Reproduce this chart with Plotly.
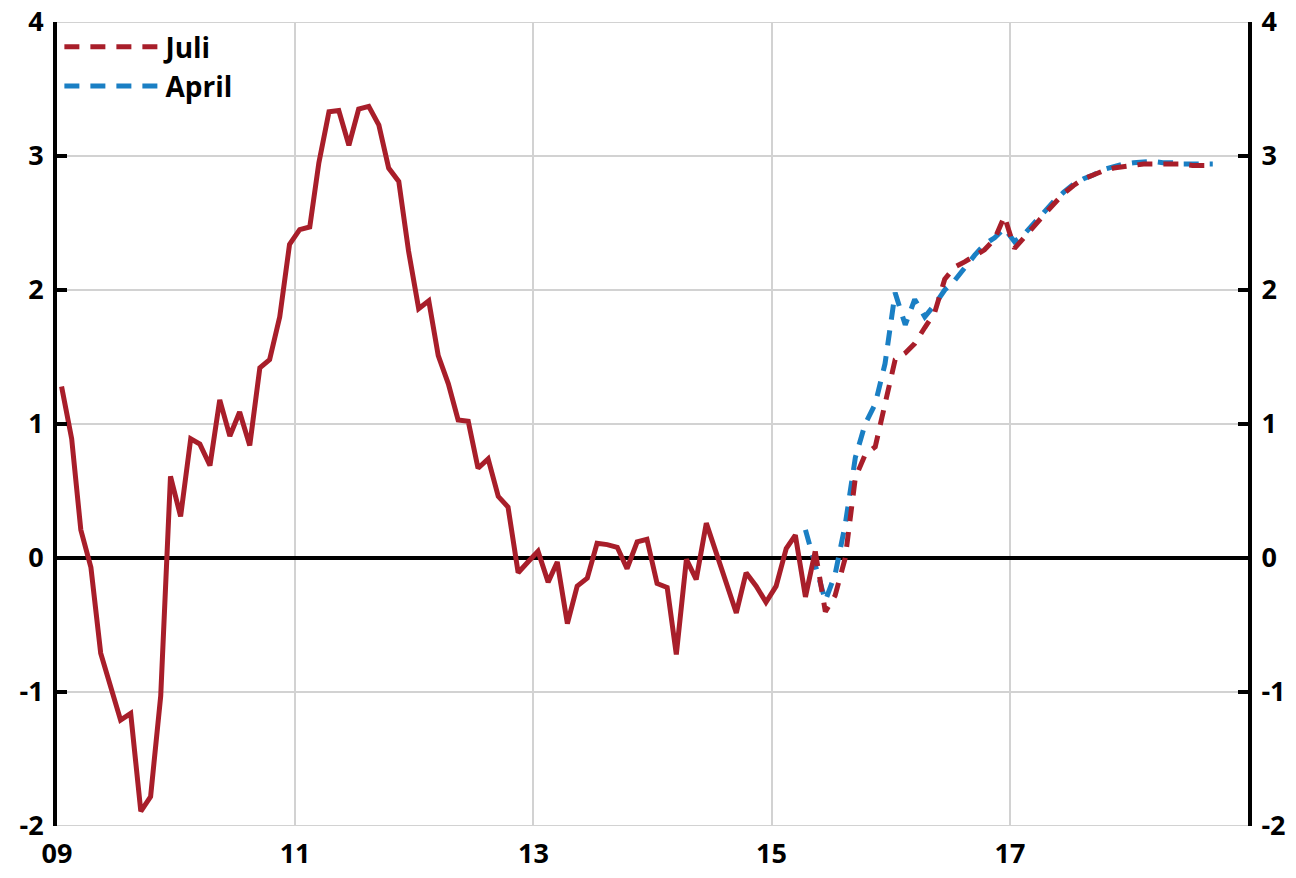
import pandas as pd
import plotly.graph_objects as go

# ---------------- data (monthly, % ) ----------------
actual_start = "2009-01-01"
actual_values = [
    1.28, 0.89, 0.21, -0.07, -0.71, -0.96, -1.21, -1.16, -1.89, -1.78,
    -1.03, 0.61, 0.31, 0.89, 0.85, 0.69, 1.18, 0.91, 1.09, 0.84,
    1.42, 1.48, 1.80, 2.34, 2.45, 2.47, 2.95, 3.33, 3.34, 3.08,
    3.35, 3.37, 3.23, 2.91, 2.81, 2.29, 1.86, 1.92, 1.51, 1.30,
    1.03, 1.02, 0.67, 0.74, 0.46, 0.38, -0.11, -0.03, 0.05, -0.18,
    -0.03, -0.49, -0.21, -0.15, 0.11, 0.10, 0.08, -0.08, 0.12, 0.14,
    -0.19, -0.22, -0.72, -0.01, -0.16, 0.26, 0.04, -0.16, -0.41, -0.11,
    -0.21, -0.33, -0.21, 0.07, 0.17, -0.29, 0.05,
]

juli_start = "2015-05-01"
juli_values = [
    0.05, -0.40, -0.28, 0.00, 0.60, 0.77, 0.83, 1.15, 1.48, 1.53,
    1.60, 1.72, 1.83, 2.08, 2.17, 2.21, 2.26, 2.30, 2.38, 2.55,
    2.31, 2.40, 2.48, 2.56, 2.64, 2.72, 2.78, 2.83, 2.86, 2.89,
    2.91, 2.92, 2.93, 2.94, 2.94, 2.94, 2.94, 2.94, 2.93, 2.93,
    2.93,
]

april_start = "2015-04-01"
april_values = [
    0.21, -0.05, -0.32, -0.12, 0.25, 0.75, 1.00, 1.15, 1.45, 1.98,
    1.74, 1.93, 1.80, 1.89, 2.00, 2.07, 2.17, 2.26, 2.34, 2.39,
    2.46, 2.36, 2.42, 2.50, 2.58, 2.66, 2.73, 2.79, 2.83, 2.86,
    2.90, 2.92, 2.94, 2.95, 2.96, 2.96, 2.95, 2.95, 2.94, 2.94,
    2.94, 2.94,
]

series_names = ["Juli", "April"]
x_tick_years = [2009, 2011, 2013, 2015, 2017]
x_tick_labels = ["09", "11", "13", "15", "17"]
y_tick_vals = [-2, -1, 0, 1, 2, 3, 4]
y_tick_labels = ["-2", "-1", "0", "1", "2", "3", "4"]
y_range = [-2, 4]


def month_mid(start, n):
    return pd.date_range(start, periods=n, freq="MS") + pd.Timedelta(days=14)


RED = "#A81E2A"
BLUE = "#1A7FC4"
GRID = "#D2D2D2"
FONT = dict(family="Open Sans", size=27, color="black", weight="bold")
LEGEND_FONT = dict(family="Open Sans", size=28, color="black", weight="bold")
LW = 5

fig = go.Figure()

fig.add_trace(go.Scatter(
    x=month_mid(april_start, len(april_values)), y=april_values,
    mode="lines", name=series_names[1], legendrank=2,
    line=dict(color=BLUE, width=LW, dash="15px,11px"),
))
fig.add_trace(go.Scatter(
    x=month_mid(juli_start, len(juli_values)), y=juli_values,
    mode="lines", name=series_names[0], legendrank=1,
    line=dict(color=RED, width=LW, dash="15px,11px"),
))
fig.add_trace(go.Scatter(
    x=month_mid(actual_start, len(actual_values)), y=actual_values,
    mode="lines", showlegend=False,
    line=dict(color=RED, width=LW),
))
# invisible copy on the right-hand axis so that it is drawn
fig.add_trace(go.Scatter(
    x=month_mid(actual_start, len(actual_values)), y=actual_values,
    yaxis="y2", mode="lines", showlegend=False, hoverinfo="skip",
    line=dict(color="rgba(0,0,0,0)", width=0),
))

# grid lines at the top and bottom edges of the value range
for yv in (y_range[0], y_range[1]):
    fig.add_shape(type="line", xref="paper", yref="y", x0=0, x1=1, y0=yv, y1=yv,
                  line=dict(color=GRID, width=2), layer="below")

fig.update_layout(
    width=1296, height=878,
    margin=dict(l=57, r=48, t=22, b=52, autoexpand=False),
    paper_bgcolor="white", plot_bgcolor="white",
    font=FONT,
    showlegend=True,
    legend=dict(
        x=0.002, y=1.0, xanchor="left", yanchor="top",
        bgcolor="rgba(0,0,0,0)", font=LEGEND_FONT,
        itemwidth=96, tracegroupgap=0,
    ),
    xaxis=dict(
        type="date",
        range=["2009-01-01", "2019-01-01"],
        tickvals=[f"{y}-01-01" for y in x_tick_years],
        ticktext=x_tick_labels,
        showgrid=True, gridcolor=GRID, gridwidth=2,
        zeroline=False, showline=False,
        ticks="outside", ticklen=4, tickcolor="rgba(0,0,0,0)",
        tickfont=FONT, automargin=False,
    ),
    yaxis=dict(
        range=y_range,
        tickvals=y_tick_vals, ticktext=y_tick_labels,
        showgrid=True, gridcolor=GRID, gridwidth=2,
        zeroline=True, zerolinecolor="black", zerolinewidth=4,
        showline=True, linecolor="black", linewidth=4,
        ticks="inside", ticklen=10, tickwidth=4, tickcolor="black",
        tickfont=FONT, automargin=False, ticklabelstandoff=4,
        ticklabeloverflow="allow",
    ),
    yaxis2=dict(
        range=y_range, overlaying="y", side="right",
        tickvals=y_tick_vals, ticktext=y_tick_labels,
        showgrid=False, zeroline=False,
        showline=True, linecolor="black", linewidth=4,
        ticks="inside", ticklen=10, tickwidth=4, tickcolor="black",
        tickfont=FONT, automargin=False, ticklabelstandoff=4,
        ticklabeloverflow="allow",
    ),
)

fig.write_html(
    "out.html",
    config={"displayModeBar": False},
    post_script="document.body.style.margin='0';document.body.style.overflow='hidden';",
)
